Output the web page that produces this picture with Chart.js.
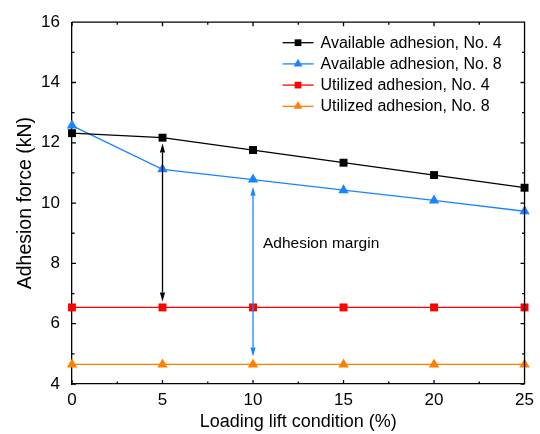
<!DOCTYPE html>
<html>
<head>
<meta charset="utf-8">
<script src="https://cdn.jsdelivr.net/npm/chart.js@4.4.1/dist/chart.umd.min.js"></script>
<style>
  body { margin: 0; background: #fff; }
  canvas { display: block; }
</style>
</head>
<body>
<canvas id="adhesionChart" width="540" height="434"></canvas>
<script>
// loading lift condition (%)
const liftLevels = [0, 5, 10, 15, 20, 25];

// adhesion force (kN)
const availableNo4 = [12.32, 12.17, 11.76, 11.34, 10.93, 10.51];
const availableNo8 = [12.57, 11.12, 10.78, 10.43, 10.09, 9.73];
const utilizedNo4 = [6.54, 6.54, 6.54, 6.54, 6.54, 6.54];
const utilizedNo8 = [4.65, 4.65, 4.65, 4.65, 4.65, 4.65];

const seriesNames = ['Available adhesion, No. 4', 'Available adhesion, No. 8',
                     'Utilized adhesion, No. 4', 'Utilized adhesion, No. 8'];

// axis ranges and tick steps
const xRange = [0, 25];
const yRange = [4, 16];
const xStep = 5;
const yStep = 2;

// margin arrows: x position, lower tip, upper tip
const marginArrowX = [5, 10];
const marginArrowLow = [6.74, 4.91];
const marginArrowHigh = [11.98, 10.54];
const marginLabel = 'Adhesion margin';
const marginLabelAt = [10.55, 8.66];

const FONT = '"Liberation Sans", Arial, sans-serif';
const BLACK = '#000000';
const BLUE = '#1a84ff';
const RED = '#ff0000';
const ORANGE = '#ff8000';
const arrowColors = [BLACK, BLUE];

Chart.defaults.font.family = FONT;
Chart.defaults.color = BLACK;

function series(i, values, color, style) {
  return {
    label: seriesNames[i],
    data: liftLevels.map((x, k) => ({ x: x, y: values[k] })),
    borderColor: color,
    backgroundColor: color,
    borderWidth: 1.3,
    pointStyle: style,
    pointRadius: style === 'rect' ? 5.6 : 6,
    pointBorderWidth: 0,
    pointHoverRadius: 6,
    clip: false
  };
}

// frame on top/right and inward major/minor ticks on all sides
const frameTicks = {
  id: 'frameTicks',
  afterDraw(chart) {
    const { ctx, chartArea: { left, right, top, bottom }, scales: { x, y } } = chart;
    ctx.save();
    ctx.strokeStyle = BLACK;
    ctx.lineWidth = 1.3;
    ctx.beginPath();
    ctx.moveTo(left, top); ctx.lineTo(right, top); ctx.lineTo(right, bottom);
    for (let v = xRange[0]; v <= xRange[1] + 1e-9; v += xStep / 2) {
      const px = x.getPixelForValue(v);
      const len = Math.abs(v % xStep) < 1e-9 ? 4 : 2.5;
      ctx.moveTo(px, bottom); ctx.lineTo(px, bottom - len);
      ctx.moveTo(px, top); ctx.lineTo(px, top + len);
    }
    for (let v = yRange[0]; v <= yRange[1] + 1e-9; v += yStep / 2) {
      const py = y.getPixelForValue(v);
      const len = Math.abs(v % yStep) < 1e-9 ? 4 : 2.5;
      ctx.moveTo(left, py); ctx.lineTo(left + len, py);
      ctx.moveTo(right, py); ctx.lineTo(right - len, py);
    }
    ctx.stroke();
    ctx.restore();
  }
};

// double-headed arrows between available and utilized adhesion
const marginArrows = {
  id: 'marginArrows',
  afterDatasetsDraw(chart) {
    const { ctx, scales: { x, y } } = chart;
    ctx.save();
    marginArrowX.forEach((xv, i) => {
      const px = x.getPixelForValue(xv);
      const yLow = y.getPixelForValue(marginArrowLow[i]);
      const yHigh = y.getPixelForValue(marginArrowHigh[i]);
      const head = 9, half = 2.6;
      ctx.strokeStyle = arrowColors[i];
      ctx.fillStyle = arrowColors[i];
      ctx.lineWidth = 1.3;
      ctx.beginPath();
      ctx.moveTo(px, yHigh + head);
      ctx.lineTo(px, yLow - head);
      ctx.stroke();
      ctx.beginPath();
      ctx.moveTo(px, yHigh);
      ctx.lineTo(px - half, yHigh + head);
      ctx.lineTo(px + half, yHigh + head);
      ctx.closePath();
      ctx.fill();
      ctx.beginPath();
      ctx.moveTo(px, yLow);
      ctx.lineTo(px - half, yLow - head);
      ctx.lineTo(px + half, yLow - head);
      ctx.closePath();
      ctx.fill();
    });
    ctx.font = '15.5px ' + FONT;
    ctx.fillStyle = BLACK;
    ctx.textAlign = 'left';
    ctx.textBaseline = 'middle';
    ctx.fillText(marginLabel, x.getPixelForValue(marginLabelAt[0]), y.getPixelForValue(marginLabelAt[1]));
    ctx.restore();
  }
};

// legend box drawn inside the plot, upper right
const insideLegend = {
  id: 'insideLegend',
  afterDraw(chart) {
    const { ctx, chartArea } = chart;
    const x0 = chartArea.right - 242;
    const y0 = chartArea.top + 20.5;
    ctx.save();
    ctx.font = '16px ' + FONT;
    ctx.textBaseline = 'middle';
    ctx.textAlign = 'left';
    chart.data.datasets.forEach((ds, i) => {
      const yy = y0 + i * 21.2;
      ctx.strokeStyle = ds.borderColor;
      ctx.lineWidth = 1.3;
      ctx.beginPath();
      ctx.moveTo(x0, yy);
      ctx.lineTo(x0 + 31, yy);
      ctx.stroke();
      ctx.fillStyle = ds.backgroundColor;
      Chart.helpers.drawPoint(ctx, {
        pointStyle: ds.pointStyle,
        radius: ds.pointRadius * 0.85,
        rotation: 0,
        borderWidth: 0
      }, x0 + 15.5, yy);
      ctx.fillStyle = BLACK;
      ctx.fillText(ds.label, x0 + 38, yy + 0.5);
    });
    ctx.restore();
  }
};

new Chart(document.getElementById('adhesionChart'), {
  type: 'line',
  data: {
    datasets: [
      series(0, availableNo4, BLACK, 'rect'),
      series(1, availableNo8, BLUE, 'triangle'),
      series(2, utilizedNo4, RED, 'rect'),
      series(3, utilizedNo8, ORANGE, 'triangle')
    ]
  },
  options: {
    responsive: false,
    animation: false,
    devicePixelRatio: 1,
    layout: { padding: { top: 17, right: 12, left: 0, bottom: 0 } },
    plugins: { legend: { display: false }, tooltip: { enabled: false } },
    scales: {
      x: {
        type: 'linear',
        min: xRange[0], max: xRange[1],
        afterFit(scale) { scale.height = 50; },
        grid: { display: false, drawTicks: false },
        border: { display: true, color: BLACK, width: 1.3 },
        ticks: { stepSize: xStep, padding: 6, color: BLACK, font: { size: 17 } },
        title: {
          display: true, text: 'Loading lift condition (%)', color: BLACK,
          font: { size: 18 }, padding: { top: 0, bottom: 1 }
        }
      },
      y: {
        type: 'linear',
        min: yRange[0], max: yRange[1],
        afterFit(scale) { scale.width = 72; },
        grid: { display: false, drawTicks: false },
        border: { display: true, color: BLACK, width: 1.3 },
        ticks: { stepSize: yStep, padding: 12, color: BLACK, font: { size: 17 } },
        title: {
          display: true, text: 'Adhesion force (kN)', color: BLACK,
          font: { size: 19.5 }, padding: { top: 14, bottom: 0 }
        }
      }
    }
  },
  plugins: [frameTicks, marginArrows, insideLegend]
});
</script>
</body>
</html>
